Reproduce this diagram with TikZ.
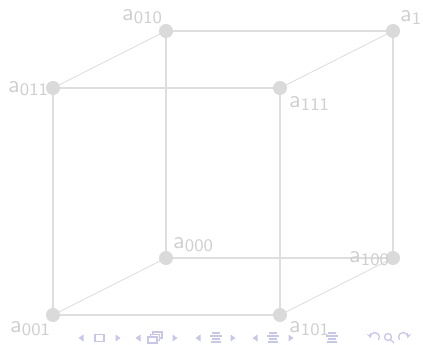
\documentclass[tikz,border=0pt]{standalone}
\usepackage{xcolor}
\usepackage{tikz}
\usepackage{amsmath}
\usetikzlibrary{arrows.meta,calc}
\renewcommand{\familydefault}{\sfdefault}
\definecolor{cubeGray}{RGB}{218,218,218}
\definecolor{edgeGray}{RGB}{222,222,222}
\definecolor{lblGray}{RGB}{208,208,208}
\definecolor{navBlue}{RGB}{198,198,238}

\begin{document}
\begin{tikzpicture}[x=0.016cm,y=-0.016cm]

    \useasboundingbox (0,0) rectangle (423,344);

    % ── vertices ─────────────────────────────────────────
    \foreach \n/\x/\y in {011/53/88,010/166/31,111/280/88,110/393/31,
                          001/53/315,000/166/258,101/280/315,100/393/258}{
      \coordinate (c\n) at (\x,\y);
    }

    % ── edges ────────────────────────────────────────────
    \foreach \a/\b in {011/111,111/101,101/001,001/011,
                       010/110,110/100,100/000,000/010}{
      \draw[edgeGray,line width=0.55pt](c\a)--(c\b);}
    \foreach \a/\b in {011/010,111/110,001/000,101/100}{
      \draw[edgeGray,line width=0.4pt](c\a)--(c\b);}

    % ── navigation bar ───────────────────────────────────
    \begin{scope}[navBlue]
      \foreach \x in {81,138,198,255}{
        \fill (\x-2.5,338) -- (\x+2.5,334.5) -- (\x+2.5,341.5) -- cycle;}
      \foreach \x in {118,175,233,291}{
        \fill (\x+2.5,338) -- (\x-2.5,334.5) -- (\x-2.5,341.5) -- cycle;}
      \draw[line width=0.6pt] (95,334.5) rectangle (104,341.5);
      \draw[line width=0.5pt,fill=white] (153,332) rectangle (162,338);
      \draw[line width=0.5pt,fill=white] (150.5,334.5) rectangle (159.5,340.5);
      \draw[line width=0.5pt,fill=white] (148,337) rectangle (157,343);
      \foreach \x in {216,273,332}{
        \foreach \dy/\w in {333/4,336/6,339/4,342/5}{
          \draw[line width=0.7pt] (\x-\w,\dy) -- (\x+\w,\dy);}}
      \draw[line width=0.6pt,-{Stealth[length=2.5pt]}] (378.4,339.9) arc (40:-200:4.5);
      \draw[line width=0.6pt] (388,337) circle (3.5);
      \draw[line width=0.6pt] (390.5,339.5) -- (394,343);
      \draw[line width=0.6pt,-{Stealth[length=2.5pt]}] (399.6,339.9) arc (-220:20:4.5);
    \end{scope}

    % ── nodes ────────────────────────────────────────────
    \foreach \n in {011,010,111,110,001,000,101,100}{
      \node[circle,fill=cubeGray,inner sep=0pt,minimum size=6.4pt] (v\n) at (c\n){};
    }

    % ── labels ───────────────────────────────────────────
    \foreach \n/\x/\y in {010/122/20,011/8/92,111/289/107,110/400/21,
                          000/173/248,100/349/262,001/10/332,101/289/332}{
      \node[lblGray,anchor=base west,inner sep=0pt,font=\fontsize{11}{13}\selectfont]
        (l\n) at (\x,\y) {$\mathsf{a}_{\mathsf{\n}}$};
    }

\end{tikzpicture}
\end{document}
